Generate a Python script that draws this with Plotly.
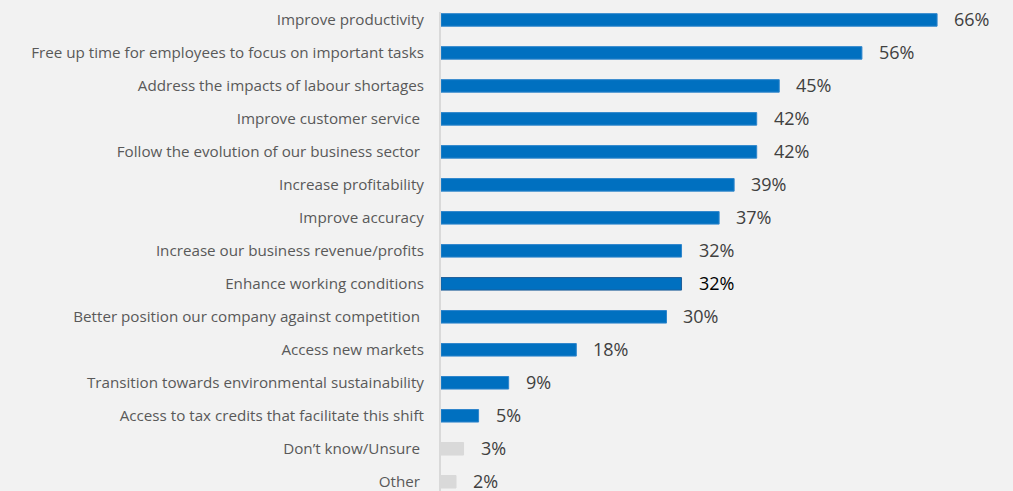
import plotly.graph_objects as go

categories = [
    "Improve productivity",
    "Free up time for employees to focus on important tasks",
    "Address the impacts of labour shortages",
    "Improve customer service\u00a0",
    "Follow the evolution of our business sector\u00a0",
    "Increase profitability",
    "Improve accuracy",
    "Increase our business revenue/profits",
    "Enhance working conditions",
    "Better position our company against competition\u00a0",
    "Access new markets",
    "Transition towards environmental sustainability",
    "Access to tax credits that facilitate this shift",
    "Don\u2019t know/Unsure\u00a0",
    "Other\u00a0",
]
values = [66, 56, 45, 42, 42, 39, 37, 32, 32, 30, 18, 9, 5, 3, 2]
value_labels = [f"{v}%" for v in values]

blue = "#0070c0"
gray = "#d9d9d9"
colors = [blue] * 13 + [gray] * 2
line_colors = ["#2f86cc"] * 8 + ["#1f5f99"] + ["#2f86cc"] * 4 + [gray] * 2
label_colors = ["#404040"] * 8 + ["#000000"] + ["#404040"] * 6

fig = go.Figure()
fig.add_trace(go.Bar(
    x=values,
    y=categories,
    orientation="h",
    marker=dict(color=colors, line=dict(color=line_colors, width=1)),
    hoverinfo="skip",
))

for c, v, t, col in zip(categories, values, value_labels, label_colors):
    fig.add_annotation(
        x=v, y=c, text=t, showarrow=False, xanchor="left", yanchor="middle",
        xshift=15, yshift=1,
        font=dict(family="Open Sans, sans-serif", size=18, color=col),
    )

fig.update_layout(
    width=1013, height=491,
    margin=dict(l=441, r=0, t=12, b=0, autoexpand=False),
    paper_bgcolor="#f2f2f2",
    plot_bgcolor="#f2f2f2",
    showlegend=False,
    bargap=0.62,
    font=dict(family="Open Sans, sans-serif"),
)
fig.update_xaxes(
    range=[0, 76.1], visible=False, showgrid=False, zeroline=False,
)
fig.update_yaxes(
    categoryorder="array", categoryarray=categories,
    range=[14.28, -0.24], automargin=False,
    showgrid=False, zeroline=False,
    showline=True, linecolor="#d9d9d9", linewidth=2,
    ticks="", ticklabelstandoff=12,
    tickfont=dict(family="Open Sans, sans-serif", size=15.2, color="#595959"),
)

fig.write_html(
    "out.html",
    config={"displayModeBar": False},
    post_script="document.body.style.margin='0';document.body.style.overflow='hidden';",
)
